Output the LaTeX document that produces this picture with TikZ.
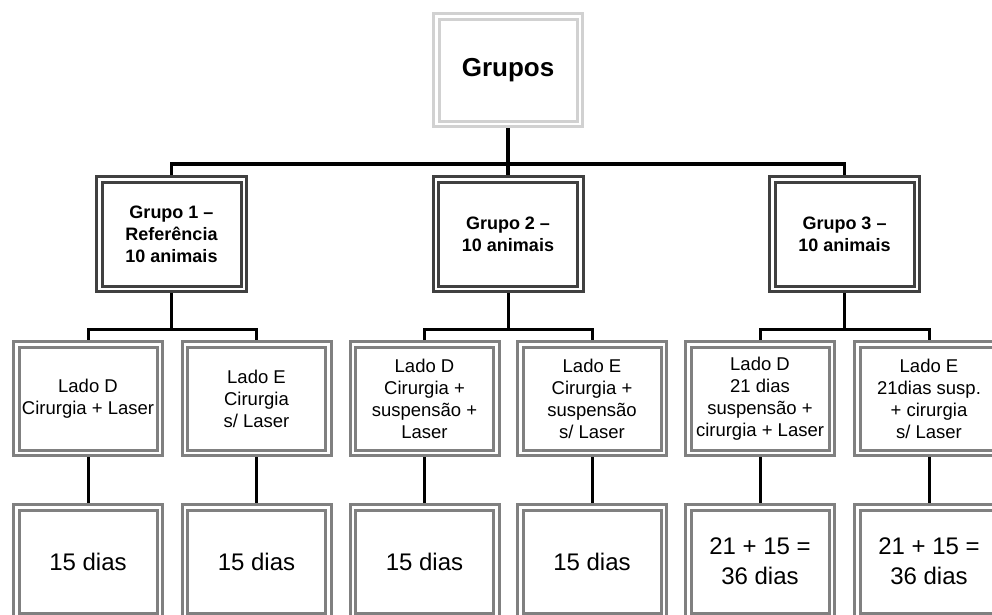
\documentclass[tikz,border=0pt]{standalone}
\usepackage{fontspec}
\setmainfont{Liberation Sans}
\usetikzlibrary{positioning}
\usetikzlibrary{backgrounds}

\begin{document}
\begin{tikzpicture}[x=1pt,y=-1pt,node distance=54.5pt,outer sep=0pt,inner sep=2pt]

	\tikzset{frame/.style={align=center,shape=rectangle,fill=white,
		line width=3pt,double=white,double distance=2.5pt}}

	\tikzset{topfield/.style={frame,draw=black!18,minimum width=143.5pt,minimum height=107.5pt,
		font=\fontsize{26}{30}\selectfont\bfseries}}

	\tikzset{groupfield/.style={frame,draw=black!75,minimum width=144.5pt,minimum height=109.5pt,
		font=\fontsize{18}{22}\selectfont\bfseries}}

	\tikzset{sidefield/.style={frame,draw=black!50,minimum width=143.5pt,minimum height=108.5pt,
		font=\fontsize{18.5}{22}\selectfont}}

	\tikzset{daysfield/.style={frame,draw=black!50,minimum width=143.5pt,minimum height=108.5pt,
		font=\fontsize{24}{30}\selectfont}}

	\tikzset{link/.style={draw=black,line width=3pt}}

	\clip (0,0) rectangle (992,614);
	\useasboundingbox (0,0) rectangle (992,614);

	\node (grupos) at (508,70) [topfield] {Grupos};

	% Groups, side by side.
	\node (grupo1) at (171.5,234) [groupfield] {Grupo 1 --\\Referência\\10 animais};
	\node (grupo2) at (508,234) [groupfield] {Grupo 2 --\\10 animais};
	\node (grupo3) at (844.5,234) [groupfield] {Grupo 3 --\\10 animais};

	% Sides of every group.
	\node (ladoD1) at (88,398.5) [sidefield] {Lado D\\Cirurgia + Laser};
	\node (ladoE1) at (256.5,398.5) [sidefield] {Lado E\\Cirurgia\\s/ Laser};
	\node (ladoD2) at (424.5,398.5) [sidefield] {Lado D\\Cirurgia +\\suspensão +\\Laser};
	\node (ladoE2) at (592,398.5) [sidefield] {Lado E\\Cirurgia +\\suspensão\\s/ Laser};
	\node (ladoD3) at (760,398.5) [sidefield] {Lado D\\21 dias\\suspensão +\\cirurgia + Laser};
	\node (ladoE3) at (929,398.5) [sidefield] {Lado E\\21dias susp.\\+ cirurgia\\s/ Laser};

	% Days, one below every side.
	\node (diasD1) [daysfield,below=of ladoD1] {15 dias};
	\node (diasE1) [daysfield,below=of ladoE1] {15 dias};
	\node (diasD2) [daysfield,below=of ladoD2] {15 dias};
	\node (diasE2) [daysfield,below=of ladoE2] {15 dias};
	\node (diasD3) [daysfield,below=of ladoD3] {21 + 15 =\\36 dias};
	\node (diasE3) [daysfield,below=of ladoE3] {21 + 15 =\\36 dias};

	\coordinate (bus) at (508,164);
	\coordinate (bus1) at (171.5,329);
	\coordinate (bus2) at (508,329);
	\coordinate (bus3) at (844.5,329);

	% Connectors behind the frames.
	\begin{pgfonlayer}{background}
		\draw [link,line width=3.5pt] (grupos) -- (bus);
		\draw [link,line width=3.5pt] (grupo1.north) |- (bus) -| (grupo3.north);
		\draw [link,line width=3.5pt] (bus) -- (grupo2.north);
		\foreach \n in {1,2,3} {
			\draw [link] (grupo\n.south) -- (bus\n);
			\draw [link] (ladoD\n.north) |- (bus\n) -| (ladoE\n.north);
			\draw [link] (ladoD\n) -- (diasD\n);
			\draw [link] (ladoE\n) -- (diasE\n);
		}
	\end{pgfonlayer}
\end{tikzpicture}
\end{document}
